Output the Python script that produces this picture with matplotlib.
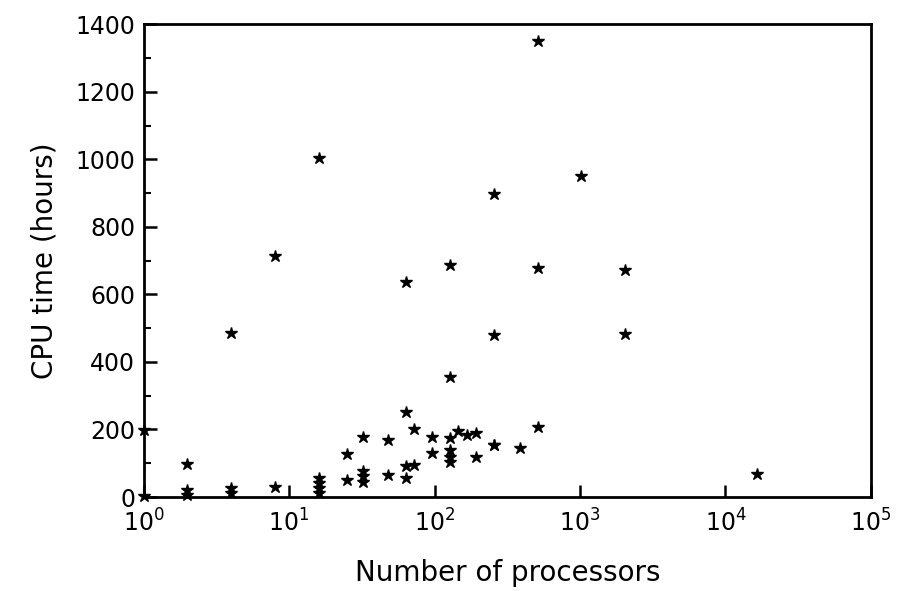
import matplotlib
matplotlib.use("Agg")
import matplotlib.pyplot as plt
from matplotlib.ticker import MultipleLocator, FixedLocator

processors = [1, 1, 2, 2, 2, 4, 4, 4, 8, 8, 16, 16, 16, 16, 16,
              25, 25, 32, 32, 32, 32, 48, 48, 64, 64, 64, 64, 72, 72,
              96, 96, 128, 128, 128, 128, 128, 128, 145, 168, 194, 194,
              256, 256, 256, 256, 384, 512, 512, 512, 1024, 2048, 2048, 16384]
cpu_hours = [198, 4, 98, 20, 6, 485, 27, 12, 715, 30, 1005, 56, 41, 27, 12,
             127, 50, 178, 77, 62, 44, 169, 65, 251, 636, 92, 56, 201, 95,
             178, 130, 175, 139, 118, 104, 686, 355, 195, 183, 189, 118,
             898, 479, 154, 154, 145, 1350, 678, 207, 952, 671, 482, 68]

xtick_vals = [1, 10, 100, 1000, 10000, 100000]
xtick_labels = [r"$10^0$", r"$10^1$", r"$10^2$", r"$10^3$", r"$10^4$", r"$10^5$"]

plt.rcParams['font.family'] = ['DejaVu Sans']
fig = plt.figure(figsize=(8.97, 5.91), dpi=100)
ax = fig.add_axes([0.160, 0.159, 0.811, 0.800])

ax.plot(processors, cpu_hours, linestyle='none', marker='*', color='black',
        markersize=9, clip_on=False, zorder=3)

ax.set_xscale('log')
ax.set_xlim(1, 1e5)
ax.set_ylim(0, 1400)
ax.set_xticks(xtick_vals)
ax.set_xticklabels(xtick_labels)
ax.xaxis.set_minor_locator(FixedLocator([]))
ax.yaxis.set_major_locator(MultipleLocator(200))
ax.yaxis.set_minor_locator(MultipleLocator(100))

ax.tick_params(axis='both', which='major', direction='in', length=9, width=1.8,
               labelsize=17, top=False, right=False, pad=6)
ax.tick_params(axis='x', which='major', pad=9)
ax.tick_params(axis='y', which='minor', direction='in', length=5, width=1.5,
               right=False)
for s in ax.spines.values():
    s.set_linewidth(2)

ax.set_xlabel("Number of processors", fontsize=20, labelpad=16)
ax.set_ylabel("CPU time (hours)", fontsize=20, labelpad=12)

fig.savefig("out.png", dpi=100)
